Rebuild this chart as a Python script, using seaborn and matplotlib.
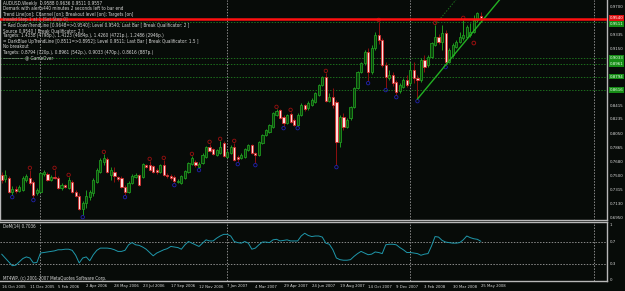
import matplotlib
matplotlib.use("Agg")
import matplotlib.pyplot as plt
import matplotlib.font_manager as fm
import matplotlib.transforms as mtrans
import numpy as np
import pandas as pd
import seaborn as sns

# ---------------- data (AUDUSD weekly, 16 Oct 2005 .. 25 May 2008) ----------------
opens = [
    0.7510, 0.7458, 0.7471, 0.7289, 0.7328, 0.7302, 0.7315, 0.7445, 0.7471, 0.7419,
    0.7276, 0.7289, 0.7523, 0.7523, 0.7445, 0.7484, 0.7471, 0.7341, 0.7380, 0.7341,
    0.7419, 0.7289, 0.7237, 0.7067, 0.7145, 0.7224, 0.7276, 0.7419, 0.7550, 0.7680,
    0.7719, 0.7510, 0.7550, 0.7484, 0.7471, 0.7354, 0.7289, 0.7406, 0.7484, 0.7510,
    0.7484, 0.7641, 0.7641, 0.7628, 0.7576, 0.7550, 0.7641, 0.7510, 0.7497, 0.7484,
    0.7419, 0.7406, 0.7471, 0.7550, 0.7654, 0.7680, 0.7615, 0.7667, 0.7745, 0.7876,
    0.7849, 0.7771, 0.7797, 0.7928, 0.7745, 0.7797, 0.7876, 0.7745, 0.7732, 0.7745,
    0.7836, 0.7902, 0.7797, 0.7771, 0.7928, 0.8032, 0.8071, 0.8136, 0.8293, 0.8358,
    0.8267, 0.8188, 0.8306, 0.8228, 0.8162, 0.8293, 0.8423, 0.8384, 0.8423, 0.8462,
    0.8553, 0.8684, 0.8788, 0.8475, 0.8527, 0.8462, 0.7941, 0.8267, 0.8136, 0.8254,
    0.8397, 0.8645, 0.8853, 0.8971, 0.9114, 0.8853, 0.9166, 0.9336, 0.9270, 0.8945,
    0.8775, 0.8814, 0.8723, 0.8606, 0.8658, 0.8749, 0.8710, 0.8879, 0.8775, 0.8749,
    0.9010, 0.8945, 0.9049, 0.9205, 0.9310, 0.9244, 0.9362, 0.8984, 0.9075, 0.9179,
    0.9244, 0.9297, 0.9310, 0.9336, 0.9375, 0.9531, 0.9588]
highs = [
    0.7550, 0.7576, 0.7497, 0.7367, 0.7367, 0.7380, 0.7497, 0.7523, 0.7576, 0.7445,
    0.7341, 0.7550, 0.7576, 0.7550, 0.7510, 0.7576, 0.7497, 0.7406, 0.7393, 0.7484,
    0.7445, 0.7315, 0.7276, 0.7171, 0.7315, 0.7315, 0.7471, 0.7602, 0.7732, 0.7784,
    0.7745, 0.7615, 0.7615, 0.7497, 0.7497, 0.7380, 0.7432, 0.7523, 0.7537, 0.7523,
    0.7667, 0.7654, 0.7693, 0.7641, 0.7602, 0.7654, 0.7706, 0.7537, 0.7523, 0.7510,
    0.7458, 0.7510, 0.7576, 0.7680, 0.7758, 0.7706, 0.7680, 0.7797, 0.7889, 0.7915,
    0.7862, 0.7849, 0.7954, 0.7954, 0.7836, 0.7902, 0.7928, 0.7771, 0.7797, 0.7862,
    0.7915, 0.7915, 0.7810, 0.7954, 0.8045, 0.8110, 0.8175, 0.8332, 0.8371, 0.8371,
    0.8293, 0.8306, 0.8332, 0.8254, 0.8319, 0.8449, 0.8436, 0.8475, 0.8514, 0.8592,
    0.8697, 0.8801, 0.8840, 0.8579, 0.8645, 0.8488, 0.8293, 0.8319, 0.8254, 0.8410,
    0.8658, 0.8866, 0.8984, 0.9140, 0.9166, 0.9205, 0.9375, 0.9505, 0.9297, 0.8984,
    0.8879, 0.8853, 0.8749, 0.8710, 0.8775, 0.8814, 0.8984, 0.8984, 0.8814, 0.9036,
    0.9075, 0.9075, 0.9244, 0.9466, 0.9349, 0.9466, 0.9401, 0.9166, 0.9231, 0.9270,
    0.9375, 0.9531, 0.9466, 0.9492, 0.9596, 0.9630, 0.9636]
lows = [
    0.7406, 0.7419, 0.7276, 0.7250, 0.7276, 0.7289, 0.7302, 0.7419, 0.7380, 0.7211,
    0.7250, 0.7276, 0.7497, 0.7432, 0.7432, 0.7458, 0.7328, 0.7315, 0.7341, 0.7328,
    0.7276, 0.7224, 0.7054, 0.6989, 0.7080, 0.7185, 0.7237, 0.7406, 0.7537, 0.7641,
    0.7537, 0.7445, 0.7419, 0.7432, 0.7341, 0.7250, 0.7276, 0.7393, 0.7471, 0.7367,
    0.7471, 0.7602, 0.7563, 0.7537, 0.7523, 0.7537, 0.7497, 0.7471, 0.7445, 0.7406,
    0.7406, 0.7393, 0.7458, 0.7537, 0.7641, 0.7615, 0.7602, 0.7654, 0.7732, 0.7810,
    0.7771, 0.7758, 0.7784, 0.7745, 0.7732, 0.7784, 0.7693, 0.7680, 0.7719, 0.7732,
    0.7823, 0.7784, 0.7667, 0.7758, 0.7915, 0.8019, 0.8058, 0.8123, 0.8280, 0.8241,
    0.8149, 0.8175, 0.8188, 0.8149, 0.8149, 0.8280, 0.8345, 0.8358, 0.8410, 0.8449,
    0.8540, 0.8671, 0.8462, 0.8462, 0.8384, 0.7641, 0.7876, 0.8097, 0.8123, 0.8228,
    0.8384, 0.8632, 0.8840, 0.8945, 0.8736, 0.8827, 0.9140, 0.9218, 0.8918, 0.8645,
    0.8749, 0.8671, 0.8553, 0.8579, 0.8645, 0.8658, 0.8684, 0.8710, 0.8501, 0.8723,
    0.8853, 0.8918, 0.9036, 0.9192, 0.9218, 0.9140, 0.8945, 0.8971, 0.9049, 0.9166,
    0.9231, 0.9270, 0.9297, 0.9310, 0.9362, 0.9505, 0.9511]
closes = [
    0.7445, 0.7510, 0.7289, 0.7328, 0.7302, 0.7354, 0.7471, 0.7497, 0.7406, 0.7250,
    0.7315, 0.7537, 0.7550, 0.7445, 0.7484, 0.7471, 0.7341, 0.7380, 0.7354, 0.7445,
    0.7289, 0.7237, 0.7067, 0.7145, 0.7237, 0.7289, 0.7445, 0.7576, 0.7706, 0.7732,
    0.7550, 0.7576, 0.7497, 0.7458, 0.7354, 0.7289, 0.7406, 0.7497, 0.7510, 0.7380,
    0.7654, 0.7615, 0.7576, 0.7550, 0.7550, 0.7641, 0.7510, 0.7497, 0.7471, 0.7432,
    0.7432, 0.7497, 0.7563, 0.7667, 0.7732, 0.7641, 0.7654, 0.7771, 0.7876, 0.7823,
    0.7784, 0.7836, 0.7876, 0.7758, 0.7810, 0.7876, 0.7706, 0.7719, 0.7771, 0.7849,
    0.7902, 0.7797, 0.7771, 0.7941, 0.8032, 0.8097, 0.8162, 0.8319, 0.8345, 0.8254,
    0.8188, 0.8293, 0.8201, 0.8162, 0.8293, 0.8423, 0.8371, 0.8449, 0.8488, 0.8579,
    0.8684, 0.8788, 0.8475, 0.8527, 0.8423, 0.7941, 0.8267, 0.8136, 0.8228, 0.8397,
    0.8645, 0.8853, 0.8971, 0.9114, 0.8853, 0.9166, 0.9336, 0.9270, 0.8945, 0.8788,
    0.8814, 0.8710, 0.8592, 0.8684, 0.8749, 0.8684, 0.8879, 0.8775, 0.8749, 0.9010,
    0.8918, 0.9049, 0.9231, 0.9310, 0.9244, 0.9362, 0.8984, 0.9140, 0.9205, 0.9244,
    0.9310, 0.9336, 0.9440, 0.9375, 0.9531, 0.9622, 0.9557]

dem_values = [
    0.47, 0.40, 0.33, 0.26, 0.27, 0.33, 0.39, 0.42, 0.40, 0.31,
    0.32, 0.49, 0.50, 0.51, 0.52, 0.53, 0.55, 0.55, 0.56, 0.56,
    0.54, 0.45, 0.31, 0.40, 0.42, 0.35, 0.46, 0.54, 0.58, 0.58,
    0.58, 0.57, 0.55, 0.52, 0.52, 0.54, 0.64, 0.68, 0.64, 0.63,
    0.60, 0.56, 0.50, 0.44, 0.49, 0.52, 0.55, 0.57, 0.61, 0.60,
    0.59, 0.56, 0.64, 0.70, 0.67, 0.64, 0.61, 0.67, 0.73, 0.71,
    0.71, 0.76, 0.80, 0.83, 0.83, 0.80, 0.70, 0.68, 0.67, 0.70,
    0.67, 0.56, 0.58, 0.64, 0.69, 0.69, 0.68, 0.73, 0.74, 0.71,
    0.72, 0.73, 0.71, 0.71, 0.71, 0.80, 0.85, 0.81, 0.79, 0.80,
    0.80, 0.78, 0.67, 0.65, 0.55, 0.40, 0.37, 0.36, 0.36, 0.37,
    0.43, 0.48, 0.52, 0.49, 0.46, 0.47, 0.51, 0.50, 0.48, 0.64,
    0.65, 0.65, 0.64, 0.59, 0.55, 0.50, 0.50, 0.49, 0.48, 0.45,
    0.47, 0.48, 0.62, 0.79, 0.78, 0.72, 0.69, 0.68, 0.67, 0.67,
    0.68, 0.73, 0.80, 0.77, 0.75, 0.74, 0.7036]

date_tick_weeks = [0, 8, 16, 24, 32, 40, 48, 56, 64, 72, 80, 88, 96, 104, 112, 120, 128, 136]
date_tick_labels = ["16 Oct 2005", "11 Dec 2005", "5 Feb 2006", "2 Apr 2006", "28 May 2006",
                    "23 Jul 2006", "17 Sep 2006", "12 Nov 2006", "7 Jan 2007", "4 Mar 2007",
                    "29 Apr 2007", "24 Jun 2007", "19 Aug 2007", "14 Oct 2007", "9 Dec 2007",
                    "3 Feb 2008", "30 Mar 2008", "25 May 2008"]
year_start_weeks = [11, 64, 116, 168]

price_tick_values = [0.9700, 0.9520, 0.9335, 0.9150, 0.8970, 0.8785, 0.8600, 0.8415,
                     0.8235, 0.8050, 0.7865, 0.7680, 0.7500, 0.7315, 0.7130, 0.6950]
dem_tick_values = [1.0, 0.7, 0.3, 0.0]
dem_tick_labels = ["1", "0.7", "0.3", "0"]
dem_levels = [0.7, 0.3]

fractal_up_weeks = [8, 15, 19, 29, 42, 46, 54, 59, 62, 66, 78, 82, 92, 107, 123, 131]
fractal_down_weeks = [3, 9, 23, 35, 49, 56, 67, 72, 80, 84, 95, 104, 109, 112, 118, 126]
break_mark_week = 134
break_mark_price = 0.9231

up_trend_anchor_weeks = [118, 126]
channel_anchor_week = 123
breakout_level = 0.9540
up_level = 0.9511
target_levels = [0.9033, 0.8961, 0.8794, 0.8616]

header_lines = [
    "AUDUSD,Weekly  0.9588 0.9636 0.9511 0.9557",
    "Demark with alerts440 minutes 2 seconds left to bar end",
    "Trend Line[on]; Channel [on]; Breakout level [on]; Targets [on]",
    "Invalid Step 1 at 1 [Set Step 0]",
    "= Red DownTrendLine [0.9648=>0.9540]; Level 0.9540; Last Bar [ Break Qualificator: 2 ]",
    "Source 0.9540 [ Break Qualificator: 2 ]",
    "Targets: 1.4338 (4798p.), 1.4123 (4684p.), 1.4260 (4721p.), 1.2486 (2946p.)",
    "= DarkBlue UpTrendLine [0.8511=>0.8952]; Level 0.9511; Last Bar [ Break Qualificator: 1.5 ]",
    "No breakout",
    "Targets: 0.8794 (720p.), 0.8961 (542p.), 0.9033 (470p.), 0.8616 (887p.)",
    "\u2014\u2014\u2014\u2014\u2014 @ GameOver",
]

# ---------------- style ----------------
BG = "#070b08"
FG = "#d8d8d8"
SPINE = "#b8b8b8"
GRID = "#8a8a8a"
BULL_EDGE = "#1f9a1f"
BULL_FACE = "#0c3f0c"
BEAR_EDGE = "#d42a2a"
BEAR_FACE = "#ffdede"
BEAR_WICK = "#8e1010"
DEM_COLOR = "#1f98ab"

sns.set_theme(style="dark", rc={"axes.facecolor": BG, "figure.facecolor": BG,
                                "savefig.facecolor": BG, "axes.grid": False})
plt.rcParams["font.family"] = ["DejaVu Sans"]

# pick a narrow font file if one is installed
narrow_path = None
prefs = ["LiberationSansNarrow-Regular", "DejaVuSansCondensed.ttf", "Condensed-Regular",
         "Narrow-Regular"]
files = [f.fname for f in fm.fontManager.ttflist]
for p in prefs:
    hits = [f for f in files if p in f.replace("\\", "/").split("/")[-1]]
    if hits:
        narrow_path = hits[0]
        break
FP = fm.FontProperties(fname=narrow_path) if narrow_path else fm.FontProperties(family="DejaVu Sans")

W, H = 625, 291
fig = plt.figure(figsize=(W / 100, H / 100), dpi=100)
renderer = fig.canvas.get_renderer()


def fit_size(sample, target_px):
    t = fig.text(0, 0, sample, fontproperties=FP, fontsize=10)
    w = t.get_window_extent(renderer).width
    t.remove()
    return 10.0 * target_px / w


FS_PRICE = fit_size("0.9700", 14.0)
FS_DATE = fit_size("16 Oct 2005", 24.0)
FS_HEAD = fit_size(header_lines[6], 162)
FS_SMALL = fit_size("MT4WP, (c) 2001-2007 MetaQuotes Software Corp.", 104)

ax1 = fig.add_axes([0, (H - 220) / H, 607 / W, 220 / H])
ax2 = fig.add_axes([0, (H - 281) / H, 607 / W, 59 / H])

weeks = np.arange(len(closes))
df = pd.DataFrame({"week": weeks, "open": opens, "high": highs, "low": lows,
                   "close": closes, "dem": dem_values})
df["bull"] = df["close"] >= df["open"]

XMIN, XMAX = -0.48, 171.8
for ax in (ax1, ax2):
    ax.set_facecolor(BG)
    ax.set_xlim(XMIN, XMAX)
    ax.set_xticks([])
    ax.set_yticks([])
    for s in ax.spines.values():
        s.set_color(SPINE)
        s.set_linewidth(1.0)
    for w in year_start_weeks:
        ax.axvline(w, color=GRID, lw=0.7, ls=(0, (1.5, 1.5)), zorder=1)

ax1.set_ylim(0.6924, 0.9792)
ax2.spines["left"].set_visible(False)
ax1.spines["top"].set_visible(False)

# ---------------- target / level lines ----------------
for lvl in target_levels + [up_level]:
    ax1.axhline(lvl, color="#1c6e1c", lw=0.7, ls=(0, (1.5, 1.5)), zorder=1.5)

# ---------------- candles ----------------
bull = df[df["bull"]]
bear = df[~df["bull"]]
ax1.vlines(bull["week"], bull["low"], bull["high"], color=BULL_EDGE, lw=0.7, zorder=2)
ax1.vlines(bear["week"], bear["low"], bear["high"], color=BEAR_WICK, lw=0.7, zorder=2)
bh = (bull["close"] - bull["open"]).clip(lower=0.0006)
ax1.bar(bull["week"], bh, bottom=bull["open"], width=0.62, color=BULL_FACE,
        edgecolor=BULL_EDGE, linewidth=0.6, zorder=3)
rh = (bear["open"] - bear["close"]).clip(lower=0.0006)
ax1.bar(bear["week"], rh, bottom=bear["close"], width=0.62, color=BEAR_FACE,
        edgecolor=BEAR_EDGE, linewidth=0.6, zorder=3)

# fractal markers
up_df = pd.DataFrame({"week": fractal_up_weeks,
                      "price": [highs[i] + 0.0028 for i in fractal_up_weeks]})
dn_df = pd.DataFrame({"week": fractal_down_weeks,
                      "price": [lows[i] - 0.0028 for i in fractal_down_weeks]})
ax1.scatter(up_df["week"], up_df["price"], s=6, facecolors="none",
            edgecolors="#9a1010", linewidths=0.6, zorder=4)
ax1.scatter(dn_df["week"], dn_df["price"], s=6, facecolors="none",
            edgecolors="#2222b0", linewidths=0.6, zorder=4)
ax1.scatter([break_mark_week], [break_mark_price], s=7, facecolors="none",
            edgecolors="#9a1010", linewidths=0.7, zorder=4)

# trend lines
a, b = up_trend_anchor_weeks
slope = (lows[b] - lows[a]) / (b - a)
tx = np.array([a, 160])
ax1.plot(tx, lows[a] + slope * (tx - a), color="#22b022", lw=1.0, zorder=5)
cx = np.array([channel_anchor_week, 160])
ax1.plot(cx, highs[channel_anchor_week] + slope * (cx - channel_anchor_week),
         color="#1c6e1c", lw=0.7, ls=(0, (1.5, 1.5)), zorder=1.5)

# breakout level
ax1.axhline(breakout_level, color="#ff1010", lw=1.8, zorder=6)

# ---------------- right price labels ----------------
tr1 = mtrans.blended_transform_factory(ax1.transAxes, ax1.transData)
for v in price_tick_values:
    ax1.text(1.004, v, f"{v:.4f}", transform=tr1, ha="left", va="center",
             fontproperties=FP, fontsize=FS_PRICE, color=FG, clip_on=False, zorder=7)
for v in target_levels:
    ax1.text(1.004, v, f"{v:.4f}", transform=tr1, ha="left", va="center",
             fontproperties=FP, fontsize=FS_PRICE, color="#e8ffe8", clip_on=False, zorder=8,
             bbox=dict(boxstyle="square,pad=0.2", fc="#158c15", ec="none"))
tr_dn = mtrans.offset_copy(tr1, fig=fig, x=0, y=-2.2, units="dots")
tr_up = mtrans.offset_copy(tr1, fig=fig, x=0, y=1.2, units="dots")
ax1.text(1.004, up_level, f"{up_level:.4f}", transform=tr_dn, ha="left", va="center",
         fontproperties=FP, fontsize=FS_PRICE, color="#e8ffe8", clip_on=False, zorder=8,
         bbox=dict(boxstyle="square,pad=0.2", fc="#158c15", ec="none"))
ax1.text(1.004, breakout_level, f"{breakout_level:.4f}", transform=tr_up, ha="left",
         va="center", fontproperties=FP, fontsize=FS_PRICE, color="#ffffff",
         clip_on=False, zorder=9,
         bbox=dict(boxstyle="square,pad=0.2", fc="#e01010", ec="none"))

# header text
for k, line in enumerate(header_lines):
    ypx = 3.5 + 5.4 * k
    fig.text(3 / W, 1 - ypx / H, line, ha="left", va="center", fontproperties=FP,
             fontsize=FS_HEAD, color=FG if k != 3 else "#9a9a9a", zorder=10)

# ---------------- DeMarker panel ----------------
for lvl in dem_levels:
    ax2.axhline(lvl, color=GRID, lw=0.7, ls=(0, (1.5, 1.5)), zorder=1)
sns.lineplot(data=df, x="week", y="dem", ax=ax2, color=DEM_COLOR, lw=0.7,
             legend=False, zorder=3)
ax2.set_xlabel("")
ax2.set_ylabel("")
ax2.set_xticks([])
ax2.set_yticks([])
ax2.set_xlim(XMIN, XMAX)
ax2.set_ylim(-0.018, 1.0545)

tr2 = mtrans.blended_transform_factory(ax2.transAxes, ax2.transData)
for v, lab in zip(dem_tick_values, dem_tick_labels):
    ax2.text(1.004, v, lab, transform=tr2, ha="left", va="center", fontproperties=FP,
             fontsize=FS_PRICE, color=FG, clip_on=False)
ax2.text(3 / 607, 1 - 4.5 / 59, f"DeM(14) {dem_values[-1]:.4f}", transform=ax2.transAxes,
         ha="left", va="center", fontproperties=FP, fontsize=FS_SMALL, color=FG)
ax2.text(3 / 607, 2.5 / 59, "MT4WP, (c) 2001-2007 MetaQuotes Software Corp.",
         transform=ax2.transAxes, ha="left", va="center", fontproperties=FP,
         fontsize=FS_SMALL, color=FG)

tr3 = mtrans.blended_transform_factory(ax2.transData, ax2.transAxes)
for w, lab in zip(date_tick_weeks, date_tick_labels):
    ax2.text(w, -5.5 / 59, lab, transform=tr3, ha="left", va="center",
             fontproperties=FP, fontsize=FS_DATE, color=FG, clip_on=False)

fig.savefig("out.png", dpi=100, facecolor=BG)
